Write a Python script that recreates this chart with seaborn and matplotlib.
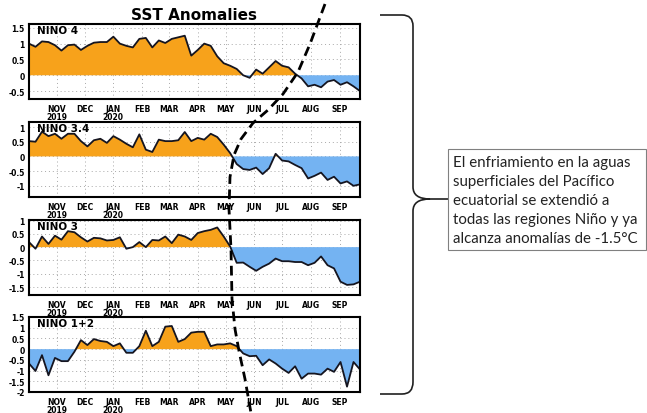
import numpy as np
import pandas as pd
import matplotlib
matplotlib.use('Agg')
import matplotlib.pyplot as plt
from matplotlib import font_manager
from matplotlib.path import Path
from matplotlib.patches import PathPatch, Rectangle
import seaborn as sns

# weekly SST anomalies (deg C), Oct 2019 - Sep 2020
weeks = pd.date_range('2019-10-02', '2020-09-23', freq='7D')
nino4 = [1.0, 0.9, 1.07, 1.05, 0.95, 0.78, 0.95, 0.97, 0.8, 0.93, 1.03, 1.05, 1.05,
         1.22, 1.0, 0.93, 0.88, 1.15, 1.18, 0.88, 1.1, 1.02, 1.15, 1.2, 1.25, 0.62,
         0.8, 1.0, 0.93, 0.6, 0.38, 0.3, 0.2, 0.0, -0.08, 0.18, 0.05, 0.25, 0.45,
         0.3, 0.25, 0.05, -0.1, -0.35, -0.3, -0.38, -0.2, -0.15, -0.3, -0.22, -0.35, -0.5]
nino34 = [0.52, 0.5, 0.84, 0.69, 0.77, 0.6, 0.77, 0.77, 0.52, 0.34, 0.55, 0.6, 0.46,
          0.69, 0.57, 0.43, 0.31, 0.75, 0.23, 0.15, 0.57, 0.52, 0.52, 0.55, 0.83, 0.52,
          0.63, 0.57, 0.77, 0.66, 0.4, 0.11, -0.26, -0.43, -0.46, -0.38, -0.6, -0.4,
          0.09, -0.14, -0.17, -0.29, -0.4, -0.75, -0.66, -0.55, -0.8, -0.69, -0.92,
          -0.85, -1.0, -0.95]
nino3 = [0.19, -0.06, 0.4, 0.12, 0.43, 0.28, 0.6, 0.56, 0.37, 0.21, 0.35, 0.33, 0.25,
         0.27, 0.37, -0.06, 0.0, 0.19, 0.0, 0.27, 0.25, 0.4, 0.15, 0.47, 0.4, 0.27,
         0.53, 0.6, 0.65, 0.74, 0.4, 0.02, -0.59, -0.58, -0.74, -0.89, -0.74, -0.62,
         -0.43, -0.53, -0.53, -0.56, -0.56, -0.68, -0.59, -0.35, -0.68, -0.8, -1.3,
         -1.42, -1.4, -1.3]
nino12 = [-0.67, -1.02, -0.28, -1.22, -0.41, -0.56, -0.56, -0.12, 0.42, 0.19, 0.47,
          0.38, 0.34, 0.14, 0.27, -0.17, -0.17, 0.14, 0.86, 0.14, 0.34, 1.05, 1.08,
          0.34, 0.47, 0.77, 0.81, 0.81, 0.14, 0.22, 0.22, 0.27, 0.14, -0.2, -0.33,
          -0.31, -0.75, -0.48, -0.67, -0.91, -1.11, -0.8, -1.38, -1.14, -1.14, -1.19,
          -0.91, -1.06, -0.6, -1.75, -0.6, -0.95]

panel_names = ['NINO 4', 'NINO 3.4', 'NINO 3', 'NINO 1+2']
series = [nino4, nino34, nino3, nino12]
yticks = [[-0.5, 0, 0.5, 1, 1.5],
          [-1, -0.5, 0, 0.5, 1],
          [-1.5, -1, -0.5, 0, 0.5, 1],
          [-2, -1.5, -1, -0.5, 0, 0.5, 1, 1.5]]
ylims = [(-0.75, 1.62), (-1.38, 1.17), (-1.8, 1.02), (-2.0, 1.5)]
month_ticks = pd.date_range('2019-11-01', '2020-09-01', freq='MS')
month_labels = ['NOV\n2019', 'DEC', 'JAN\n2020', 'FEB', 'MAR', 'APR', 'MAY',
                'JUN', 'JUL', 'AUG', 'SEP']

title = 'SST Anomalies'
note = ('El enfriamiento en la aguas\nsuperficiales del Pacífico\n'
        'ecuatorial se extendió a\ntodas las regiones Niño y ya\n'
        'alcanza anomalías de -1.5°C')

# long table for seaborn
df = pd.DataFrame({'week': np.tile(weeks, 4),
                   'region': np.repeat(panel_names, len(weeks)),
                   'anom': np.concatenate(series)})

sns.set_style('white')
names = {f.name for f in font_manager.fontManager.ttflist}
tick_font = 'Liberation Sans Narrow' if 'Liberation Sans Narrow' in names else 'DejaVu Sans'
plt.rcParams['font.family'] = ['DejaVu Sans']
plt.rcParams['text.color'] = 'black'

W, H = 647, 414
fig = plt.figure(figsize=(W / 100, H / 100), dpi=100)


def fx(x, y):
    # pixel (from top left) -> figure fraction
    return x / W, 1 - y / H


orange = '#f7a21b'
blue = '#74b3f2'
panel_tops = [25, 123, 221, 318]
left, right, ph = 29, 360, 75

for i, name in enumerate(panel_names):
    x0, y0 = fx(left, panel_tops[i] + ph)
    ax = fig.add_axes([x0, y0, (right - left) / W, ph / H])
    sub = df[df['region'] == name]
    vals = sub['anom'].to_numpy()
    ax.fill_between(sub['week'], vals, 0, where=vals >= 0, interpolate=True,
                    color=orange, lw=0)
    ax.fill_between(sub['week'], vals, 0, where=vals <= 0, interpolate=True,
                    color=blue, lw=0)
    sns.lineplot(data=sub, x='week', y='anom', ax=ax, color='#151520', lw=1.3)
    ax.set_xlim(weeks[0], weeks[-1])
    ax.set_ylim(*ylims[i])
    ax.set_yticks(yticks[i], [f'{v:g}' for v in yticks[i]])
    ax.set_xticks(month_ticks, month_labels)
    ax.set_xlabel('')
    ax.set_ylabel('')
    ax.grid(True, linestyle=(0, (1, 3)), color='#a8a8a8', lw=0.7)
    ax.tick_params(axis='both', labelsize=5.5, width=0.8, length=4,
                   direction='inout', pad=1, colors='black')
    ax.tick_params(axis='x', length=5)
    for lbl in ax.get_xticklabels() + ax.get_yticklabels():
        lbl.set_fontweight('bold')
        lbl.set_family(tick_font)
        lbl.set_linespacing(0.85)
    for sp in ax.spines.values():
        sp.set_linewidth(1.5)
        sp.set_color('black')
    ax.text(0.025, 0.99, name, transform=ax.transAxes, va='top', ha='left',
            fontsize=7.5, fontweight='bold', color='black')

tx, ty = fx(194, 16)
fig.text(tx, ty, title, ha='center', va='center', fontsize=11,
         fontweight='bold', color='black')

# hand drawn dashed divider across the panels
divider_px = [(325, 5), (310, 45), (298, 73), (283, 95), (268, 111), (253, 124),
              (241, 140), (234, 156), (230, 178), (229, 210), (231, 250),
              (232, 300), (235, 330), (239, 352), (245, 380), (251, 414)]
dx, dy = zip(*[fx(x, y) for x, y in divider_px])
fig.add_artist(plt.Line2D(dx, dy, transform=fig.transFigure, color='black',
                          lw=2.0, linestyle=(0, (3.5, 2))))

# curly brace
bx, tip = 413, 200
brace_px = [(380, 16), (402, 16), (bx, 16), (bx, 27), (bx, 188), (bx, tip),
            (430, tip), (448, tip),
            (430, tip), (bx, tip), (bx, 212), (bx, 383), (bx, 395), (402, 395), (380, 395)]
codes = [Path.MOVETO, Path.LINETO, Path.CURVE3, Path.CURVE3, Path.LINETO,
         Path.CURVE3, Path.CURVE3, Path.LINETO,
         Path.MOVETO, Path.CURVE3, Path.CURVE3, Path.LINETO, Path.CURVE3,
         Path.CURVE3, Path.LINETO]
brace = Path([fx(x, y) for x, y in brace_px], codes)
fig.add_artist(PathPatch(brace, transform=fig.transFigure, fill=False,
                         color='#202020', lw=1.2))

# note box
bx0, by0 = fx(448, 251)
fig.add_artist(Rectangle((bx0, by0), (646 - 448) / W, 101 / H,
                         transform=fig.transFigure, fill=False,
                         edgecolor='#808080', lw=0.8))
nx, ny = fx(453, 201)
fig.text(nx, ny, note, ha='left', va='center', fontsize=10.8, family='Lato',
         color='#222222', linespacing=1.45)

fig.savefig('out.png', dpi=100)
